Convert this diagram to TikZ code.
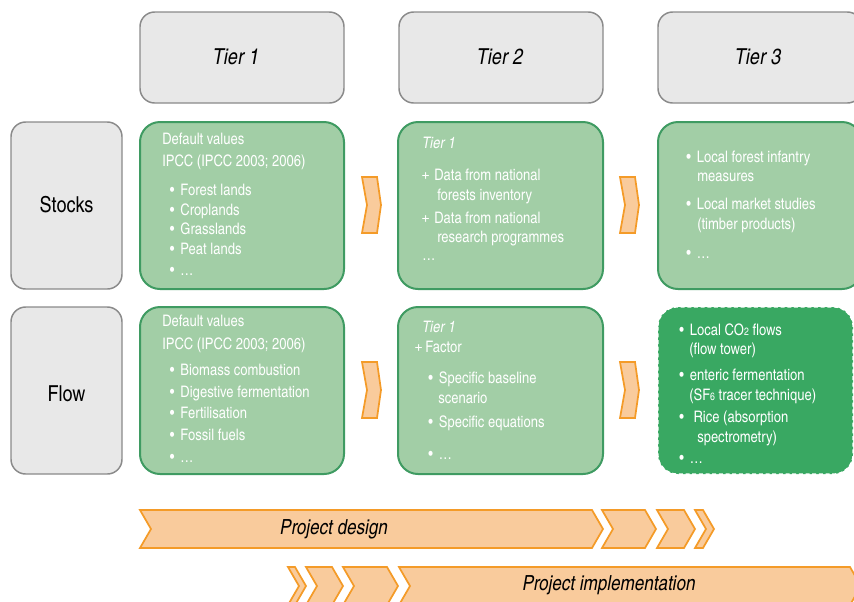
\documentclass[tikz,border=0pt]{standalone}
\usepackage{fontspec}
\setmainfont{texgyreheroscn}[Extension=.otf,UprightFont=*-regular,ItalicFont=*-italic,BoldFont=*-bold,BoldItalicFont=*-bolditalic]
\definecolor{hdrfill}{HTML}{E8E8E8}
\definecolor{hdrline}{HTML}{8A8A8A}
\definecolor{lgfill}{HTML}{A2CEA6}
\definecolor{lgline}{HTML}{3F9B62}
\definecolor{dgfill}{HTML}{39A862}
\definecolor{chfill}{HTML}{F9CB9C}
\definecolor{chline}{HTML}{F49B28}
\newcommand{\blt}{\makebox[8pt][l]{•}}
\newcommand{\pls}[1]{\makebox[#1][l]{\fontsize{13.5}{14}\selectfont +}}
\newcommand{\smallchev}[3]{% name, x, ytop
  \draw[chevstyle] (#2,#3) coordinate (#1) -- ++(15,0) -- ++(4,28) -- ++(-4,28) -- ++(-15,0) -- ++(5,-28) -- cycle;}
\newcommand{\bigchev}[4]{% name, xleft, xright, ytop
  \draw[chevstyle] (#2,#4) coordinate (#1) -- (#3,#4) -- ({#3+11},{#4+19}) -- (#3,{#4+38}) -- (#2,{#4+38}) -- ({#2+11},{#4+19}) -- cycle;}
\begin{document}
\begin{tikzpicture}[x=0.75pt,y=-0.75pt,
  hdr/.style={draw=hdrline, fill=hdrfill, line width=1.1pt, rounded corners=11pt, inner sep=0pt},
  lgbox/.style={draw=lgline, fill=lgfill, line width=1.5pt, rounded corners=15pt, inner sep=0pt},
  dgbox/.style={fill=dgfill, rounded corners=15pt, inner sep=0pt},
  chevstyle/.style={draw=chline, fill=chfill, line width=1.3pt, line join=miter},
  hdrtxt/.style={font=\fontsize{16.5}{19}\selectfont\itshape, text=black, inner sep=0pt},
  sidetxt/.style={font=\fontsize{16.5}{19}\selectfont, text=black, inner sep=0pt},
  txt/.style={anchor=mid west, inner sep=0pt, yshift=-0.9pt, font=\fontsize{11.9}{14}\selectfont, text=white},
  projtxt/.style={font=\fontsize{15.6}{18}\selectfont\itshape, text=black, inner sep=0pt}
]
\useasboundingbox (0,0) rectangle (854,601);
\clip (0,0) rectangle (854,601);
% header boxes
\node[hdr, minimum width=153pt, minimum height=68.25pt] (h1) at (242,57.5) {};
\node[hdr, minimum width=153pt, minimum height=68.25pt] (h2) at (501,57.5) {};
\node[hdr, minimum width=153pt, minimum height=68.25pt] (h3) at (760,57.5) {};
\node[hdrtxt] (h1t) at (236,57) {Tier 1};
\node[hdrtxt] (h2t) at (500,57) {Tier 2};
\node[hdrtxt] (h3t) at (758,57) {Tier 3};
% side boxes
\node[hdr, minimum width=83.25pt, minimum height=125.25pt] (sst) at (66.5,205.5) {};
\node[hdr, minimum width=83.25pt, minimum height=125.25pt] (sfl) at (66.5,390.5) {};
\node[sidetxt] (sstt) at (66.5,205) {Stocks};
\node[sidetxt] (sflt) at (66.5,394) {Flow};
% green boxes row 1
\node[lgbox, minimum width=153pt, minimum height=125.25pt] (b11) at (242,205.5) {};
\node[lgbox, minimum width=153.75pt, minimum height=125.25pt] (b12) at (500.5,205.5) {};
\node[lgbox, minimum width=153pt, minimum height=125.25pt] (b13) at (760,205.5) {};
% green boxes row 2
\node[lgbox, minimum width=153pt, minimum height=125.25pt] (b21) at (242,390.5) {};
\node[lgbox, minimum width=153.75pt, minimum height=125.25pt] (b22) at (500.5,390.5) {};
\node[dgbox, minimum width=146.25pt, minimum height=125.25pt] (b23) at (755.5,390.5) {};
\draw[white, line width=1.2pt, dash pattern=on 3pt off 2pt, rounded corners=15pt] (b23.north west) rectangle (b23.south east);
% small chevrons
\smallchev{c1}{362}{177}
\smallchev{c2}{620}{177}
\smallchev{c3}{362}{362}
\smallchev{c4}{620}{362}
% texts row 1, box 1
\node[txt] (t111) at (162,140) {Default values};
\node[txt] (t112) at (162,162) {IPCC (IPCC 2003; 2006)};
\node[txt] (t113) at (169.5,191) {\blt Forest lands};
\node[txt] (t114) at (169.5,211) {\blt Croplands};
\node[txt] (t115) at (169.5,230) {\blt Grasslands};
\node[txt] (t116) at (169.5,250) {\blt Peat lands};
\node[txt] (t117) at (169.5,271) {\blt …};
% row 1, box 2
\node[txt] (t121) at (422,144) {\itshape Tier 1};
\node[txt] (t122) at (421,176) {\pls{9.75pt}Data from national};
\node[txt] (t123) at (437,196) {forests inventory};
\node[txt] (t124) at (421,219) {\pls{9.75pt}Data from national};
\node[txt] (t125) at (437,238) {research programmes};
\node[txt] (t126) at (422,256) {…};
% row 1, box 3
\node[txt] (t131) at (686,158) {\blt Local forest infantry};
\node[txt] (t132) at (697,177) {measures};
\node[txt] (t133) at (686,205) {\blt Local market studies};
\node[txt] (t134) at (697,225) {(timber products)};
\node[txt] (t135) at (686,254) {\blt …};
% row 2, box 1
\node[txt] (t211) at (162,322) {Default values};
\node[txt] (t212) at (162,345) {IPCC (IPCC 2003; 2006)};
\node[txt] (t213) at (169.5,371) {\blt Biomass combustion};
\node[txt] (t214) at (169.5,393) {\blt Digestive fermentation};
\node[txt] (t215) at (169.5,414) {\blt Fertilisation};
\node[txt] (t216) at (169.5,436) {\blt Fossil fuels};
\node[txt] (t217) at (169.5,458) {\blt …};
% row 2, box 2
\node[txt] (t221) at (422,328) {\itshape Tier 1};
\node[txt] (t222) at (414,348) {\pls{8.25pt}Factor};
\node[txt] (t223) at (428,379) {\blt Specific baseline};
\node[txt] (t224) at (438,399) {scenario};
\node[txt] (t225) at (428,423) {\blt Specific equations};
\node[txt] (t226) at (428,455) {\blt …};
% row 2, box 3
\node[txt] (t231) at (679,331) {\blt Local CO{\fontsize{8}{8}\selectfont 2} flows};
\node[txt] (t232) at (689,350) {(flow tower)};
\node[txt] (t233) at (679,376) {\blt enteric fermentation};
\node[txt] (t234) at (689,396) {(SF{\fontsize{8}{8}\selectfont 6} tracer technique)};
\node[txt] (t235) at (679,418) {\blt\ Rice (absorption};
\node[txt] (t236) at (697,438) {spectrometry)};
\node[txt] (t237) at (679,459) {\blt …};
% project chevrons row 1
\bigchev{p1}{140}{592}{510}
\bigchev{p2}{602}{645}{510}
\bigchev{p3}{657}{684}{510}
\bigchev{p4}{695}{703}{510}
% project chevrons row 2
\bigchev{q1}{288}{295}{567}
\bigchev{q2}{306}{332}{567}
\bigchev{q3}{343}{387}{567}
\bigchev{q4}{399}{850}{567}
\node[projtxt] (pd) at (334,529) {Project design};
\node[projtxt] (pi) at (609,585) {Project implementation};
\end{tikzpicture}
\end{document}
